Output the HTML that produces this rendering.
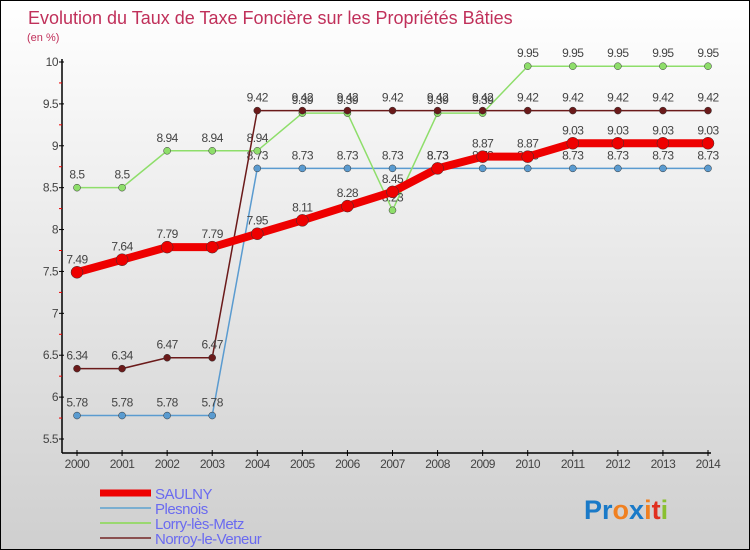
<!DOCTYPE html>
<html><head><meta charset="utf-8"><style>
body{margin:0;}
#c{width:750px;height:550px;position:relative;box-sizing:border-box;border:1px solid #000;background:linear-gradient(#ffffff,#cfcfcf);font-family:"DejaVu Sans","Liberation Sans",sans-serif;overflow:hidden}
svg text{font-family:"Liberation Sans","DejaVu Sans",sans-serif;}
</style></head><body>
<div id="c">
<svg id="s" width="750" height="550"></svg>
</div>
<script>
const years=[2000,2001,2002,2003,2004,2005,2006,2007,2008,2009,2010,2011,2012,2013,2014];
const yTicks=[5.5,6,6.5,7,7.5,8,8.5,9,9.5,10];
const saulny=[7.49,7.64,7.79,7.79,7.95,8.11,8.28,8.45,8.73,8.87,8.87,9.03,9.03,9.03,9.03];
const plesnois=[5.78,5.78,5.78,5.78,8.73,8.73,8.73,8.73,8.73,8.73,8.73,8.73,8.73,8.73,8.73];
const lorry=[8.5,8.5,8.94,8.94,8.94,9.39,9.39,8.23,9.39,9.39,9.95,9.95,9.95,9.95,9.95];
const norroy=[6.34,6.34,6.47,6.47,9.42,9.42,9.42,9.42,9.42,9.42,9.42,9.42,9.42,9.42,9.42];
const NS="http://www.w3.org/2000/svg";
const s=document.getElementById('s');
const X=i=>76+i*(707-76)/14;
const Y=v=>61+(10-v)*(438-61)/4.5;
function mk(t,a,txt,p){const e=document.createElementNS(NS,t);for(const k in a)e.setAttribute(k,a[k]);if(txt!==undefined)e.textContent=txt;(p||s).appendChild(e);return e;}
let e;
e=mk('text',{x:27,y:23,fill:'#c0305a','font-size':18,'font-family':'DejaVu Sans'},'Evolution du Taux de Taxe Foncière sur les Propriétés Bâties');


e=mk('text',{x:26,y:40,fill:'#c0305a','font-size':11},'(en %)');


e=mk('line',{x1:61,y1:58,x2:61,y2:452,stroke:'#000','stroke-width':1.5});


e=mk('line',{x1:61,y1:452,x2:710,y2:452,stroke:'#000','stroke-width':1.5});


yTicks.forEach(v=>{
 e=mk('line',{x1:58,y1:Y(v),x2:63,y2:Y(v),stroke:'#000'});
 
 
 e=mk('text',{x:57,y:Y(v)+4,'text-anchor':'end','font-size':12,fill:'#444','letter-spacing':'-0.5'},String(v));
 
 
 if(v<10){e=mk('line',{x1:58,y1:Y(v+0.25),x2:61,y2:Y(v+0.25),stroke:'#e00'});
 
 }
});
years.forEach((y,i)=>{
 e=mk('line',{x1:X(i),y1:449,x2:X(i),y2:455,stroke:'#000'});
 
 
 e=mk('text',{x:X(i),y:467,'text-anchor':'middle','font-size':12,fill:'#444','letter-spacing':'-0.5'},String(y));
 
 
});
function series(d,col,w,r,name){
 const pts=d.map((v,i)=>X(i)+','+Y(v)).join(' ');
 e=mk('polyline',{points:pts,fill:'none',stroke:col,'stroke-width':w});
 
 
 d.forEach((v,i)=>{
  e=mk('circle',{cx:X(i),cy:Y(v),r:r,fill:col,stroke:'#333','stroke-width':0.5});
  
  
  e=mk('text',{x:X(i),y:Y(v)-9,'text-anchor':'middle','font-size':12,fill:'#444','letter-spacing':'-0.5'},String(v));
  
  
 });
}
series(plesnois,'#5a9bd0',1.5,3.5,'plesnois');
series(lorry,'#8ede6a',1.5,3.5,'lorry');
series(norroy,'#6b1a1a',1.5,3.5,'norroy');
series(saulny,'#ee0000',8,6,'saulny');
const leg=[['SAULNY','#ee0000',7],['Plesnois','#7aaed0',2],['Lorry-lès-Metz','#9ad870',2],['Norroy-le-Veneur','#8a5050',2]];
leg.forEach((l,i)=>{
 const y=492+i*15;
 e=mk('line',{x1:99,y1:y,x2:150,y2:y,stroke:l[1],'stroke-width':l[2]});
 
 
 e=mk('text',{x:154,y:y+6,'font-size':15,fill:'#6a6af0','letter-spacing':'-0.5'},l[0]);
 
 
});
e=mk('text',{x:583,y:518,'font-size':27,'font-weight':'bold',fill:'#1a7ac8'});


mk('tspan',{fill:'#1a7ac8'},'Pr',e);
mk('tspan',{fill:'#f08020'},'o',e);
mk('tspan',{fill:'#1a7ac8'},'x',e);
mk('tspan',{fill:'#f08020'},'i',e);
mk('tspan',{fill:'#e03020'},'t',e);
mk('tspan',{fill:'#8ac030'},'i',e);
</script>
</body></html>
